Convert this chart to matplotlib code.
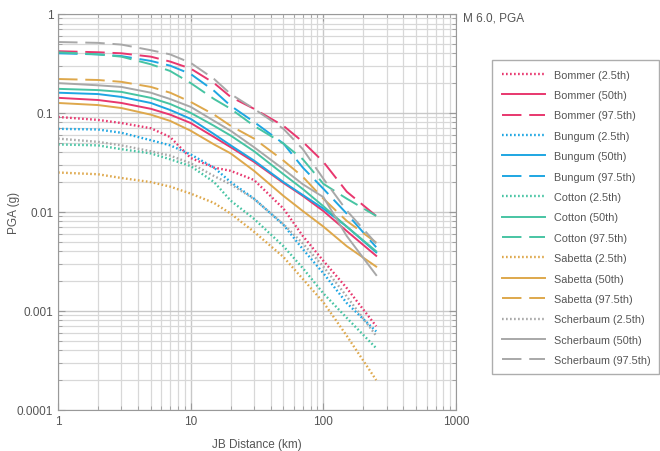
import matplotlib
matplotlib.use('Agg')
import matplotlib.pyplot as plt
from matplotlib.ticker import FixedLocator, LogLocator, NullFormatter
import numpy as np

plt.rcParams['font.family'] = ['Liberation Sans', 'DejaVu Sans']

# JB distance (km) where the curves were read
distance = [1, 2, 3, 5, 7, 10, 15, 20, 30, 50, 70, 100, 150, 250]

# PGA (g)
bommer_025 = [0.091, 0.085, 0.079, 0.070, 0.057, 0.035, 0.028, 0.026, 0.021, 0.0108, 0.0057, 0.0032, 0.0017, 0.0007]
bommer_50 = [0.142, 0.135, 0.126, 0.110, 0.096, 0.079, 0.057, 0.045, 0.032, 0.0196, 0.0145, 0.0102, 0.0064, 0.0036]
bommer_975 = [0.42, 0.41, 0.40, 0.37, 0.33, 0.28, 0.20, 0.145, 0.11, 0.074, 0.051, 0.032, 0.016, 0.0091]

bungum_025 = [0.069, 0.068, 0.063, 0.053, 0.047, 0.038, 0.028, 0.020, 0.0136, 0.0074, 0.0042, 0.0024, 0.0012, 0.00062]
bungum_50 = [0.160, 0.155, 0.145, 0.126, 0.107, 0.087, 0.061, 0.047, 0.033, 0.020, 0.0148, 0.0108, 0.0071, 0.0039]
bungum_975 = [0.40, 0.39, 0.375, 0.335, 0.30, 0.247, 0.167, 0.118, 0.081, 0.049, 0.028, 0.0171, 0.0096, 0.0044]

cotton_025 = [0.048, 0.047, 0.043, 0.039, 0.034, 0.029, 0.020, 0.013, 0.0085, 0.0045, 0.0027, 0.0015, 0.00085, 0.00042]
cotton_50 = [0.175, 0.170, 0.163, 0.142, 0.123, 0.100, 0.074, 0.059, 0.041, 0.024, 0.017, 0.0114, 0.0071, 0.0040]
cotton_975 = [0.41, 0.39, 0.37, 0.31, 0.265, 0.20, 0.138, 0.110, 0.074, 0.049, 0.034, 0.0192, 0.0136, 0.0091]

sabetta_025 = [0.025, 0.024, 0.022, 0.020, 0.018, 0.0153, 0.0123, 0.0096, 0.0063, 0.0035, 0.0021, 0.00122, 0.00056, 0.0002]
sabetta_50 = [0.126, 0.120, 0.112, 0.096, 0.083, 0.066, 0.048, 0.039, 0.026, 0.0145, 0.0102, 0.0071, 0.0045, 0.0028]
sabetta_975 = [0.22, 0.215, 0.206, 0.183, 0.16, 0.129, 0.096, 0.074, 0.055, 0.033, 0.0226, 0.0136, 0.0081, 0.0049]

scherbaum_025 = [0.055, 0.051, 0.047, 0.041, 0.037, 0.031, 0.023, 0.019, 0.0135, 0.0075, 0.0048, 0.0028, 0.0014, 0.00056]
scherbaum_50 = [0.20, 0.19, 0.183, 0.16, 0.138, 0.115, 0.083, 0.066, 0.045, 0.027, 0.019, 0.0141, 0.0057, 0.0023]
scherbaum_975 = [0.52, 0.51, 0.49, 0.43, 0.39, 0.32, 0.22, 0.155, 0.11, 0.069, 0.043, 0.0216, 0.0103, 0.0048]

models = ['Bommer', 'Bungum', 'Cotton', 'Sabetta', 'Scherbaum']
colors = ['#e8376e', '#1ea6e2', '#47c4a3', '#dea84c', '#a8a8a8']
series = [
    [bommer_025, bommer_50, bommer_975],
    [bungum_025, bungum_50, bungum_975],
    [cotton_025, cotton_50, cotton_975],
    [sabetta_025, sabetta_50, sabetta_975],
    [scherbaum_025, scherbaum_50, scherbaum_975],
]
pct_labels = ['2.5th', '50th', '97.5th']
styles = [(0, (0.7, 1.0)), '-', (0, (10, 4))]
widths = [1.7, 1.4, 1.4]

fig = plt.figure(figsize=(6.6, 4.52), dpi=100)
ax = fig.add_axes([0.088, 0.091, 0.603, 0.876])

for name, col, vals in zip(models, colors, series):
    for v, pl, ls, lw in zip(vals, pct_labels, styles, widths):
        ax.plot(distance, v, color=col, linestyle=ls, linewidth=lw,
                label=f'{name} ({pl})')

ax.set_xscale('log')
ax.set_yscale('log')
ax.set_xlim(1, 1000)
ax.set_ylim(0.0001, 1)

ax.xaxis.set_major_locator(FixedLocator([1, 10, 100, 1000]))
ax.set_xticklabels(['1', '10', '100', '1000'])
ax.yaxis.set_major_locator(FixedLocator([0.0001, 0.001, 0.01, 0.1, 1]))
ax.set_yticklabels(['0.0001', '0.001', '0.01', '0.1', '1'])
ax.xaxis.set_minor_locator(LogLocator(base=10, subs=np.arange(2, 10)))
ax.yaxis.set_minor_locator(LogLocator(base=10, subs=np.arange(2, 10)))
ax.xaxis.set_minor_formatter(NullFormatter())
ax.yaxis.set_minor_formatter(NullFormatter())

ax.grid(True, which='major', color='#c8c8c8', linewidth=1.0)
ax.grid(True, which='minor', color='#d8d8d8', linewidth=0.9)
ax.set_axisbelow(True)
ax.tick_params(which='both', direction='in', top=True, right=True,
               color='#999999', labelcolor='#555555', labelsize=8.5)
ax.tick_params(which='major', length=5)
ax.tick_params(which='minor', length=3)
for sp in ax.spines.values():
    sp.set_color('#999999')

ax.set_xlabel('JB Distance (km)', fontsize=8.5, color='#555555', labelpad=8)
ax.set_ylabel('PGA (g)', fontsize=8.5, color='#555555', labelpad=-2)

fig.text(0.702, 0.96, 'M 6.0, PGA', fontsize=8.5, color='#555555', ha='left', va='center')

leg = fig.legend(loc='upper left', bbox_to_anchor=(0.746, 0.864), borderaxespad=0,
                 fontsize=7.8, handlelength=4.0, handletextpad=0.8, labelspacing=0.96,
                 borderpad=0.85, frameon=True, fancybox=False, labelcolor='#555555')
leg.get_frame().set_edgecolor('#999999')
leg.get_frame().set_linewidth(1.0)

fig.savefig('out.png', dpi=100, facecolor='white')
